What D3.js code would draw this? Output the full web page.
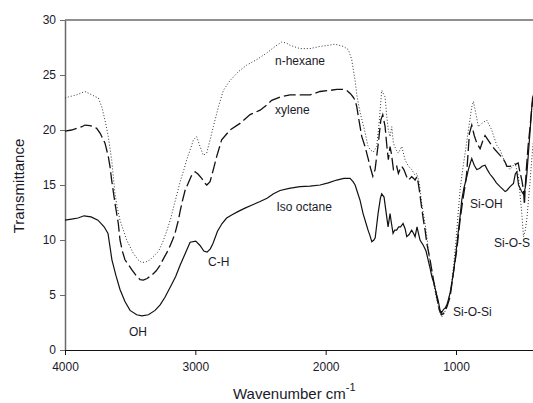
<!DOCTYPE html>
<html><head><meta charset="utf-8">
<script src="https://cdn.jsdelivr.net/npm/d3@7"></script>
<style>
html,body{margin:0;padding:0;background:#fff;}
svg{display:block;font-family:"Liberation Sans",Arial,sans-serif;}
</style></head>
<body>
<svg id="c" width="533" height="403"></svg>
<script>
const xTicks = [4000, 3000, 2000, 1000];
const yTicks = [0, 5, 10, 15, 20, 25, 30];

const isoOctane = [[4000,11.8],[3950,11.9],[3900,12.0],[3854,12.2],[3800,12.1],[3747,11.8],[3700,11.2],[3670,10.6],[3640,8.2],[3610,6.8],[3578,5.5],[3540,4.4],[3501,3.6],[3450,3.2],[3410,3.1],[3360,3.2],[3309,3.6],[3270,4.1],[3233,4.8],[3180,6.0],[3150,6.7],[3117,7.7],[3080,8.7],[3040,9.8],[2997,9.9],[2964,9.5],[2935,9.0],[2910,8.9],[2885,9.2],[2864,9.7],[2830,10.8],[2795,11.5],[2760,12.0],[2718,12.3],[2670,12.6],[2619,12.9],[2560,13.2],[2503,13.5],[2450,13.8],[2400,14.2],[2350,14.5],[2280,14.7],[2197,14.85],[2120,14.9],[2043,15.0],[1980,15.2],[1915,15.45],[1860,15.6],[1813,15.6],[1790,15.3],[1774,15.0],[1755,14.3],[1736,13.6],[1713,12.4],[1690,11.5],[1675,10.9],[1660,10.4],[1646,9.85],[1630,10.0],[1620,10.2],[1598,12.4],[1580,13.8],[1570,14.2],[1552,13.9],[1535,12.4],[1521,11.2],[1506,12.4],[1495,11.5],[1483,10.6],[1470,10.9],[1455,10.9],[1440,11.2],[1425,11.2],[1406,11.5],[1390,11.0],[1378,10.3],[1360,10.5],[1340,10.9],[1325,10.6],[1314,10.3],[1299,11.2],[1288,10.6],[1276,10.0],[1250,9.5],[1230,9.0],[1214,8.2],[1200,7.5],[1186,6.7],[1173,6.2],[1160,5.6],[1148,5.0],[1137,4.5],[1122,3.6],[1110,3.4],[1095,3.7],[1084,3.8],[1070,4.1],[1060,4.5],[1045,5.2],[1032,6.1],[1020,7.0],[1007,8.2],[995,9.4],[984,10.6],[969,12.1],[956,13.6],[940,14.7],[920,15.6],[905,16.4],[890,17.0],[879,17.4],[860,16.8],[841,16.4],[820,16.5],[800,16.7],[777,16.8],[760,16.4],[740,16.0],[713,15.6],[690,15.2],[662,14.85],[640,14.6],[623,14.4],[610,14.5],[585,14.85],[559,15.15],[545,16.0],[533,16.2],[520,15.0],[500,14.5],[485,14.2],[478,14.2],[465,15.0],[456,16.05],[445,17.8],[431,20.0],[420,21.8],[413,22.9],[405,23.2],[400,23.4]];

const xylene = [[4000,19.9],[3950,20.0],[3910,20.15],[3870,20.3],[3847,20.45],[3810,20.4],[3780,20.3],[3757,20.15],[3730,19.7],[3693,18.8],[3668,17.6],[3655,16.7],[3642,15.45],[3616,13.3],[3591,11.5],[3578,10.0],[3560,9.0],[3540,8.2],[3510,7.7],[3488,7.3],[3450,6.7],[3424,6.4],[3399,6.35],[3370,6.5],[3335,6.8],[3300,7.2],[3271,7.7],[3240,8.4],[3207,9.1],[3175,10.0],[3156,10.6],[3130,11.8],[3117,12.6],[3100,13.5],[3079,14.5],[3050,15.3],[3028,15.9],[3002,16.2],[2980,16.0],[2951,15.6],[2930,15.2],[2912,15.0],[2887,15.3],[2862,16.4],[2836,17.6],[2798,19.1],[2734,20.0],[2657,20.6],[2580,21.4],[2503,21.8],[2450,22.3],[2414,22.7],[2350,23.0],[2273,23.2],[2197,23.2],[2120,23.2],[2043,23.5],[1966,23.6],[1915,23.7],[1870,23.7],[1838,23.6],[1810,23.3],[1790,23.0],[1774,22.7],[1761,22.1],[1749,21.2],[1736,20.3],[1723,19.4],[1698,18.5],[1672,17.3],[1655,16.5],[1638,15.8],[1621,16.4],[1596,18.8],[1577,20.9],[1562,21.4],[1544,20.3],[1530,18.5],[1519,17.3],[1506,18.5],[1495,17.8],[1480,16.4],[1465,16.6],[1455,16.7],[1442,16.05],[1430,16.4],[1416,16.7],[1400,16.4],[1380,15.8],[1365,15.45],[1340,15.75],[1325,15.6],[1314,15.45],[1300,15.75],[1290,15.2],[1281,14.5],[1263,12.9],[1250,11.8],[1237,10.9],[1224,9.7],[1199,8.2],[1173,6.4],[1148,4.85],[1127,3.6],[1110,3.2],[1090,3.4],[1070,3.9],[1045,4.85],[1020,7.0],[994,9.1],[969,11.8],[948,13.6],[930,15.0],[918,16.05],[897,19.7],[879,20.45],[860,19.5],[840,18.8],[815,18.3],[795,19.0],[777,19.5],[760,19.2],[726,18.6],[700,18.2],[677,17.9],[655,17.6],[639,17.4],[620,17.0],[610,16.7],[585,16.7],[559,16.8],[540,16.9],[523,17.0],[510,16.2],[495,15.45],[482,14.5],[475,13.2],[470,14.5],[460,16.5],[447,18.5],[430,20.5],[418,22.1],[410,22.8],[400,23.3]];

const nHexane = [[4000,22.9],[3975,23.0],[3910,23.2],[3847,23.5],[3795,23.2],[3744,22.9],[3718,22.1],[3693,20.9],[3668,19.4],[3642,17.3],[3616,14.2],[3600,13.0],[3578,11.8],[3527,10.0],[3476,8.8],[3440,8.2],[3411,7.95],[3380,8.0],[3348,8.2],[3284,8.95],[3250,9.8],[3220,10.8],[3190,11.9],[3169,12.9],[3140,14.2],[3117,15.3],[3090,16.3],[3066,17.3],[3028,18.6],[3015,19.1],[2990,19.4],[2964,18.5],[2939,17.7],[2913,17.9],[2887,19.1],[2862,20.3],[2823,22.1],[2785,23.6],[2734,24.5],[2670,25.3],[2606,25.9],[2529,26.4],[2452,27.0],[2388,27.6],[2337,28.0],[2300,27.9],[2273,27.7],[2197,27.4],[2120,27.4],[2043,27.6],[1979,27.7],[1928,27.8],[1864,27.6],[1826,27.3],[1800,26.4],[1787,25.4],[1774,24.5],[1761,23.2],[1749,22.4],[1736,21.6],[1723,21.0],[1698,19.8],[1677,18.6],[1659,18.2],[1634,18.0],[1608,18.5],[1588,20.9],[1570,23.6],[1544,23.0],[1531,21.2],[1519,20.0],[1506,19.4],[1493,20.3],[1480,18.8],[1460,18.2],[1442,17.9],[1416,18.5],[1391,17.3],[1365,16.7],[1340,16.4],[1314,15.9],[1300,16.05],[1281,15.15],[1263,13.3],[1237,11.5],[1224,10.3],[1200,8.0],[1173,6.2],[1148,4.6],[1125,3.4],[1110,3.0],[1090,3.3],[1060,4.5],[1040,5.5],[1020,7.5],[1000,10.0],[985,12.2],[969,14.5],[950,16.3],[930,17.9],[905,20.0],[879,22.1],[866,22.6],[848,21.5],[828,20.3],[802,20.6],[764,20.9],[726,20.0],[687,18.6],[662,18.2],[623,17.0],[585,16.4],[547,17.0],[521,15.75],[495,12.4],[482,10.3],[470,10.8],[457,11.8],[431,15.45],[411,18.5],[400,19.5]];

const seriesNames = ["n-hexane", "xylene", "Iso octane"];
const bandLabels = ["OH", "C-H", "Si-O-Si", "Si-OH", "Si-O-S"];

const svg = d3.select("#c");
const x = d3.scaleLinear().domain([4000, 400]).range([65, 534.2]);
const y = d3.scaleLinear().domain([0, 30]).range([350, 20]);

const FONT = 12;
svg.append("line").attr("x1", 65).attr("x2", 533).attr("y1", 20).attr("y2", 20)
  .attr("stroke", "#6a6a6a").attr("stroke-width", 1.5);

const yAxis = svg.append("g").attr("transform", "translate(65,0)")
  .call(d3.axisLeft(y).tickValues(yTicks).tickFormat(d3.format("d")).tickSize(5).tickPadding(4).tickSizeOuter(0));
yAxis.select(".domain").attr("stroke", "#6a6a6a").attr("stroke-width", 1.5);
yAxis.selectAll(".tick line").attr("stroke", "#6a6a6a");
yAxis.selectAll("text").attr("font-size", FONT).attr("fill", "#1a1a2a").attr("font-family", "Liberation Sans, Arial, sans-serif");

const xAxis = svg.append("g").attr("transform", "translate(0,350)")
  .call(d3.axisBottom(x).tickValues(xTicks).tickFormat(d3.format("d")).tickSize(5).tickPadding(7).tickSizeOuter(0));
xAxis.select(".domain").attr("stroke", "#111").attr("stroke-width", 1.2);
xAxis.selectAll(".tick line").attr("stroke", "#111");
xAxis.selectAll("text").attr("font-size", FONT).attr("fill", "#1a1a2a").attr("font-family", "Liberation Sans, Arial, sans-serif");

const line = d3.line().x(d => x(d[0])).y(d => y(d[1])).curve(d3.curveLinear);

svg.append("clipPath").attr("id", "pc").append("rect")
  .attr("x", 65).attr("y", 18).attr("width", 470).attr("height", 334);
const plot = svg.append("g").attr("clip-path", "url(#pc)");

plot.append("path").datum(nHexane).attr("d", line).attr("fill", "none")
  .attr("stroke", "#333").attr("stroke-width", 1).attr("stroke-dasharray", "1,2");
plot.append("path").datum(xylene).attr("d", line).attr("fill", "none")
  .attr("stroke", "#111").attr("stroke-width", 1.3).attr("stroke-dasharray", "12,4");
plot.append("path").datum(isoOctane).attr("d", line).attr("fill", "none")
  .attr("stroke", "#111").attr("stroke-width", 1.2);

const ann = [
  {t: seriesNames[0], x: 275, y: 65},
  {t: seriesNames[1], x: 275, y: 114},
  {t: seriesNames[2], x: 276.5, y: 211},
  {t: bandLabels[0], x: 129, y: 336},
  {t: bandLabels[1], x: 208, y: 266},
  {t: bandLabels[2], x: 453, y: 316},
  {t: bandLabels[3], x: 470, y: 208},
  {t: bandLabels[4], x: 494, y: 247}
];
svg.selectAll("text.ann").data(ann).enter().append("text").attr("class", "ann")
  .attr("x", d => d.x).attr("y", d => d.y).attr("font-size", FONT).attr("fill", "#1a1a2a")
  .text(d => d.t);

svg.append("text").attr("transform", "translate(24,186) rotate(-90)")
  .attr("text-anchor", "middle").attr("font-size", 15).attr("fill", "#1a1a2a")
  .text("Transmittance");
const xt = svg.append("text").attr("x", 233).attr("y", 399).attr("font-size", 15).attr("fill", "#1a1a2a");
xt.append("tspan").text("Wavenumber cm");
xt.append("tspan").attr("dy", -8).attr("font-size", 11).text("-1");
</script>
</body></html>
